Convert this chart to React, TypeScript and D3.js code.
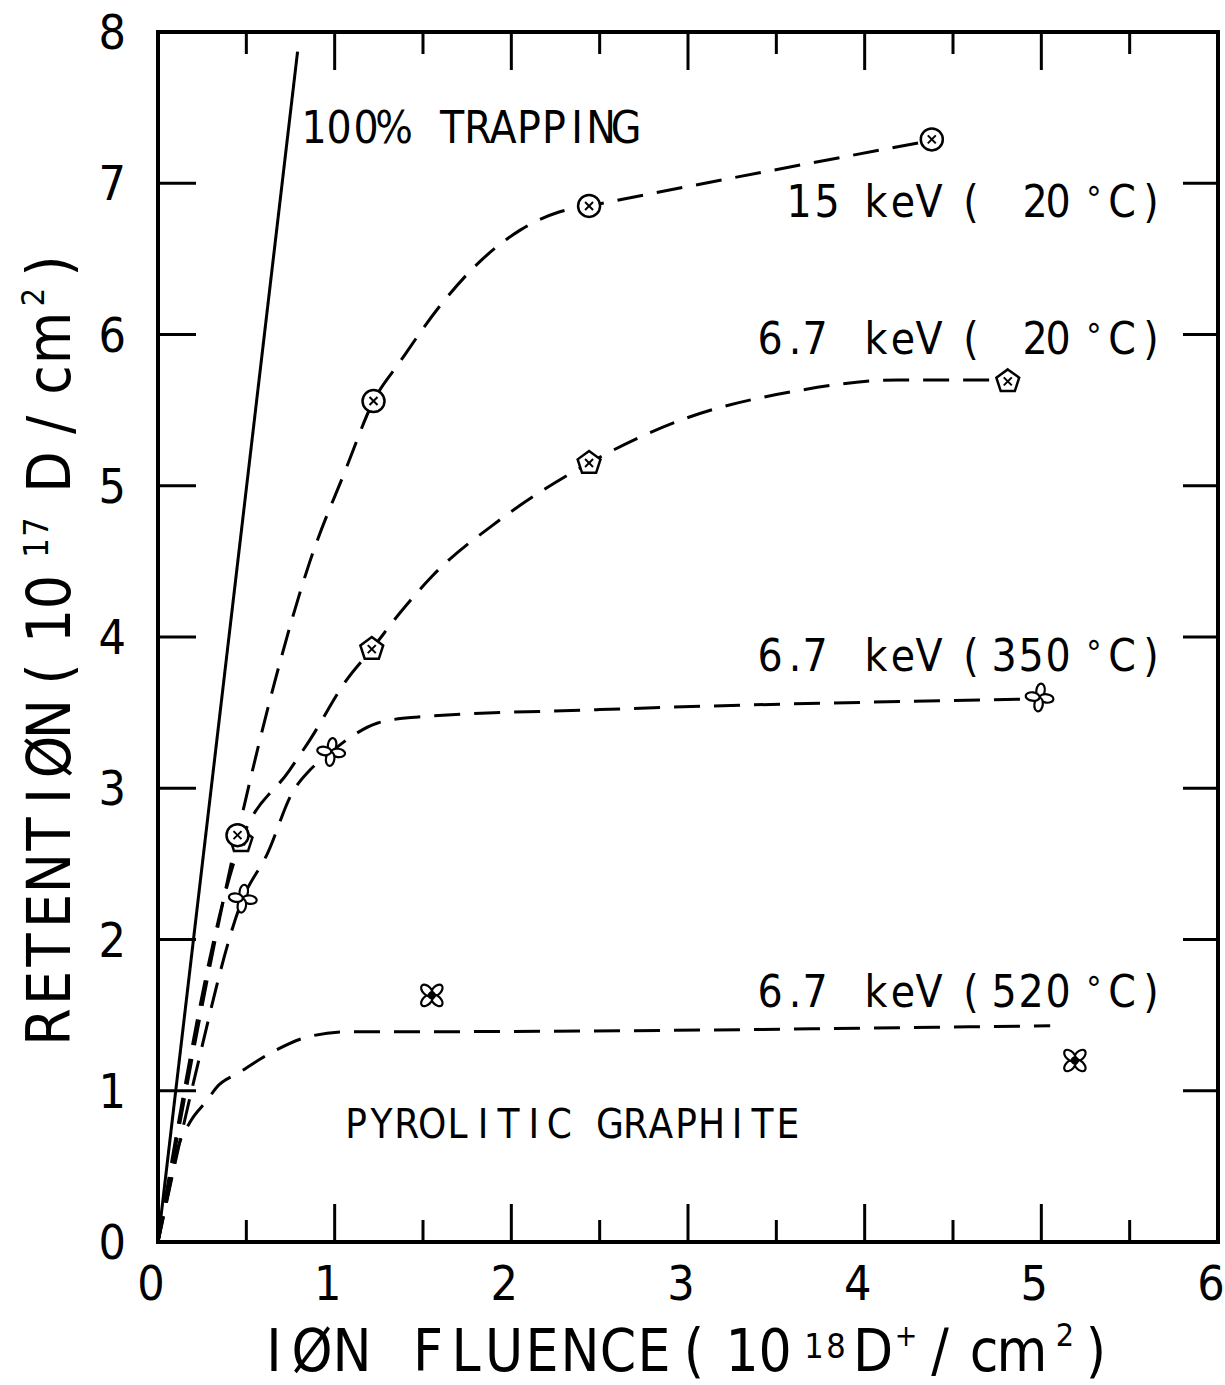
import React from "react";
import * as d3 from "d3";

// ---- data ----
const trapX = [0, 0.79];
const trapY = [0, 7.87];

const pts15X = [0.45, 1.22, 2.44, 4.38];
const pts15Y = [2.69, 5.56, 6.85, 7.29];
const pts67X = [0.47, 1.21, 2.44, 4.81];
const pts67Y = [2.65, 3.92, 5.15, 5.69];
const pts350X = [0.48, 0.98, 4.99];
const pts350Y = [2.27, 3.24, 3.6];
const pts520X = [1.55, 5.19];
const pts520Y = [1.63, 1.2];

const curve15X = [0, 0.45, 0.66, 0.86, 1.06, 1.22, 1.37, 1.59, 1.82, 2.05, 2.27, 2.44, 4.32];
const curve15Y = [0, 2.69, 3.7, 4.5, 5.1, 5.56, 5.82, 6.18, 6.48, 6.69, 6.81, 6.85, 7.27];
const curve67X = [0, 0.47, 0.745, 0.86, 1.07, 1.21, 1.37, 1.55, 1.93, 2.44, 2.95, 3.63, 4.19, 4.72];
const curve67Y = [0, 2.65, 3.12, 3.32, 3.72, 3.92, 4.16, 4.4, 4.77, 5.15, 5.43, 5.63, 5.7, 5.7];
const curve350X = [0, 0.2, 0.48, 0.62, 0.76, 0.86, 0.97, 1.08, 1.24, 1.46, 2.5, 4.95];
const curve350Y = [0, 1.05, 2.27, 2.57, 2.97, 3.12, 3.23, 3.33, 3.43, 3.47, 3.52, 3.59];
const curve520X = [0, 0.07, 0.11, 0.18, 0.28, 0.33, 0.46, 0.67, 0.86, 1.08, 1.31, 5.05];
const curve520Y = [0, 0.39, 0.61, 0.79, 0.94, 1.02, 1.12, 1.27, 1.36, 1.39, 1.39, 1.43];

const xTicks = [0, 1, 2, 3, 4, 5, 6];
const yTicks = [0, 1, 2, 3, 4, 5, 6, 7, 8];

const W = 1225;
const H = 1385;
const FONT = "'DejaVu Sans Condensed', 'Liberation Sans', 'DejaVu Sans', sans-serif";

const x = d3.scaleLinear().domain([0, 6]).range([158, 1218]);
const y = d3.scaleLinear().domain([0, 8]).range([1242, 32]);

const zip = (a: number[], b: number[]) => a.map((v, i) => [v, b[i]] as [number, number]);
const curveGen = d3
  .line<[number, number]>()
  .x((d) => x(d[0]))
  .y((d) => y(d[1]))
  .curve(d3.curveMonotoneX);
const lineGen = d3
  .line<[number, number]>()
  .x((d) => x(d[0]))
  .y((d) => y(d[1]));

// text with each character centred at its own position (monospaced lettering look)
function Mono({ s, xs, y: yy, size }: { s: string; xs: number[]; y: number; size: number }) {
  return (
    <text x={xs.join(" ")} y={yy} textAnchor="middle" fontSize={size} fontFamily={FONT} fill="#000">
      {s}
    </text>
  );
}

function Cross({ s = 4 }: { s?: number }) {
  return (
    <g stroke="#000" strokeWidth={2}>
      <line x1={-s} y1={-s} x2={s} y2={s} />
      <line x1={-s} y1={s} x2={s} y2={-s} />
    </g>
  );
}

function CircleMark({ cx, cy }: { cx: number; cy: number }) {
  return (
    <g transform={`translate(${cx},${cy})`}>
      <circle r={11} fill="#fff" stroke="#000" strokeWidth={2.5} />
      <Cross />
    </g>
  );
}

function PentMark({ cx, cy }: { cx: number; cy: number }) {
  const r = 12;
  const pts = d3
    .range(5)
    .map((i) => {
      const a = -Math.PI / 2 + (i * 2 * Math.PI) / 5;
      return `${r * Math.cos(a)},${r * Math.sin(a)}`;
    })
    .join(" ");
  return (
    <g transform={`translate(${cx},${cy})`}>
      <polygon points={pts} fill="#fff" stroke="#000" strokeWidth={2.5} />
      <Cross />
    </g>
  );
}

function Clover({ cx, cy, rot, dot }: { cx: number; cy: number; rot: number; dot?: boolean }) {
  return (
    <g transform={`translate(${cx},${cy}) rotate(${rot})`} fill="#fff" stroke="#000" strokeWidth={2.2}>
      {[0, 90, 180, 270].map((a) => (
        <ellipse key={a} cx={0} cy={-7} rx={4.2} ry={7} transform={`rotate(${a})`} />
      ))}
      {dot && <circle r={3} fill="#000" />}
    </g>
  );
}

function EnergyLabel({ energy, temp, by }: { energy: string; temp: string; by: number }) {
  const eXs =
    energy === "15 keV ("
      ? [799, 827, 851, 876, 903, 929, 950, 971]
      : [770, 795, 815, 845, 876, 903, 929, 950, 971];
  const tXs = temp.length === 2 ? [1035, 1058] : [1004, 1031, 1058];
  return (
    <g>
      <Mono s={energy} xs={eXs} y={by} size={44} />
      <Mono s={temp} xs={tXs} y={by} size={44} />
      <text x={1094} y={by - 6} textAnchor="middle" fontSize={34} fontFamily={FONT}>
        °
      </text>
      <Mono s="C )" xs={[1122, 1137, 1151]} y={by} size={44} />
    </g>
  );
}

export default function App() {
  const txt = { fontFamily: FONT, fill: "#000" } as const;
  return (
    <svg
      width={W}
      height={H}
      viewBox={`0 0 ${W} ${H}`}
      style={{ position: "absolute", left: 0, top: 0, background: "#fff" }}
    >
      <rect x={0} y={0} width={W} height={H} fill="#fff" />
      {/* frame */}
      <rect x={x(0)} y={y(8)} width={x(6) - x(0)} height={y(0) - y(8)} fill="none" stroke="#000" strokeWidth={4} />
      {/* ticks */}
      <g stroke="#000" strokeWidth={3}>
        {d3.range(0.5, 6, 0.5).map((v) => {
          const major = Math.abs(v - Math.round(v)) < 1e-6;
          const len = major ? 38 : 22;
          return (
            <g key={"xt" + v}>
              <line x1={x(v)} x2={x(v)} y1={y(0)} y2={y(0) - len} />
              <line x1={x(v)} x2={x(v)} y1={y(8)} y2={y(8) + len} />
            </g>
          );
        })}
        {d3.range(1, 8).map((v) => (
          <g key={"yt" + v}>
            <line x1={x(0)} x2={x(0) + 38} y1={y(v)} y2={y(v)} />
            <line x1={x(6)} x2={x(6) - 35} y1={y(v)} y2={y(v)} />
          </g>
        ))}
      </g>
      {/* tick labels */}
      {xTicks.map((v) => (
        <text key={"xl" + v} x={x(v) - 7} y={1300} textAnchor="middle" fontSize={48} {...txt}>
          {v}
        </text>
      ))}
      {yTicks.map((v) => (
        <text key={"yl" + v} x={126} y={y(v) + 17} textAnchor="end" fontSize={48} {...txt}>
          {v}
        </text>
      ))}

      {/* 100% trapping */}
      <path d={lineGen(zip(trapX, trapY)) || ""} fill="none" stroke="#000" strokeWidth={3} />

      {/* dashed curves */}
      <g fill="none" stroke="#000" strokeWidth={3} strokeDasharray="26 14">
        <path d={curveGen(zip(curve15X, curve15Y)) || ""} />
        <path d={curveGen(zip(curve67X, curve67Y)) || ""} />
        <path d={curveGen(zip(curve350X, curve350Y)) || ""} />
        <path d={curveGen(zip(curve520X, curve520Y)) || ""} />
      </g>

      {/* markers */}
      {zip(pts67X, pts67Y).map((p, i) => (
        <PentMark key={"p" + i} cx={x(p[0])} cy={y(p[1])} />
      ))}
      {zip(pts15X, pts15Y).map((p, i) => (
        <CircleMark key={"c" + i} cx={x(p[0])} cy={y(p[1])} />
      ))}
      {zip(pts350X, pts350Y).map((p, i) => (
        <Clover key={"k" + i} cx={x(p[0])} cy={y(p[1])} rot={8} />
      ))}
      {zip(pts520X, pts520Y).map((p, i) => (
        <Clover key={"m" + i} cx={x(p[0])} cy={y(p[1])} rot={45} dot />
      ))}

      {/* annotations */}
      <Mono
        s="100% TRAPPING"
        xs={[314, 339, 366, 394, 423, 452, 478, 503, 529, 554, 577, 601, 626]}
        y={143}
        size={44}
      />
      <EnergyLabel energy="15 keV (" temp="20" by={217} />
      <EnergyLabel energy="6.7 keV (" temp="20" by={354} />
      <EnergyLabel energy="6.7 keV (" temp="350" by={671} />
      <EnergyLabel energy="6.7 keV (" temp="520" by={1007} />
      <Mono
        s="PYROLITIC GRAPHITE"
        xs={d3.range(18).map((i) => 356 + i * 25.4)}
        y={1138}
        size={40}
      />

      {/* x axis title */}
      <Mono
        s="IØN FLUENCE ( 10"
        xs={[274, 312, 352, 390, 428, 466, 504, 542, 580, 618, 654, 675, 694, 716, 742, 775]}
        y={1371}
        size={58}
      />
      <Mono s="18" xs={[814, 836]} y={1358} size={34} />
      <Mono s="D" xs={[873]} y={1371} size={58} />
      <Mono s="+" xs={[906]} y={1346} size={30} />
      <Mono s="/cm" xs={[940, 984, 1022]} y={1371} size={58} />
      <Mono s="2" xs={[1065]} y={1346} size={32} />
      <Mono s=")" xs={[1096]} y={1371} size={58} />

      {/* y axis title */}
      <g transform="rotate(-90)">
        <Mono
          s="RETENTIØN ( 10"
          xs={[1027, 988, 950, 911, 873, 834, 796, 757, 719, 695, 674, 650, 626, 592].map((v) => -v)}
          y={70}
          size={60}
        />
        <Mono s="17" xs={[-548, -527]} y={48} size={34} />
        <Mono s="D/cm" xs={[-472, -425, -380, -338]} y={70} size={60} />
        <Mono s="2" xs={[-297]} y={44} size={32} />
        <Mono s=")" xs={[-266]} y={70} size={60} />
      </g>
    </svg>
  );
}
